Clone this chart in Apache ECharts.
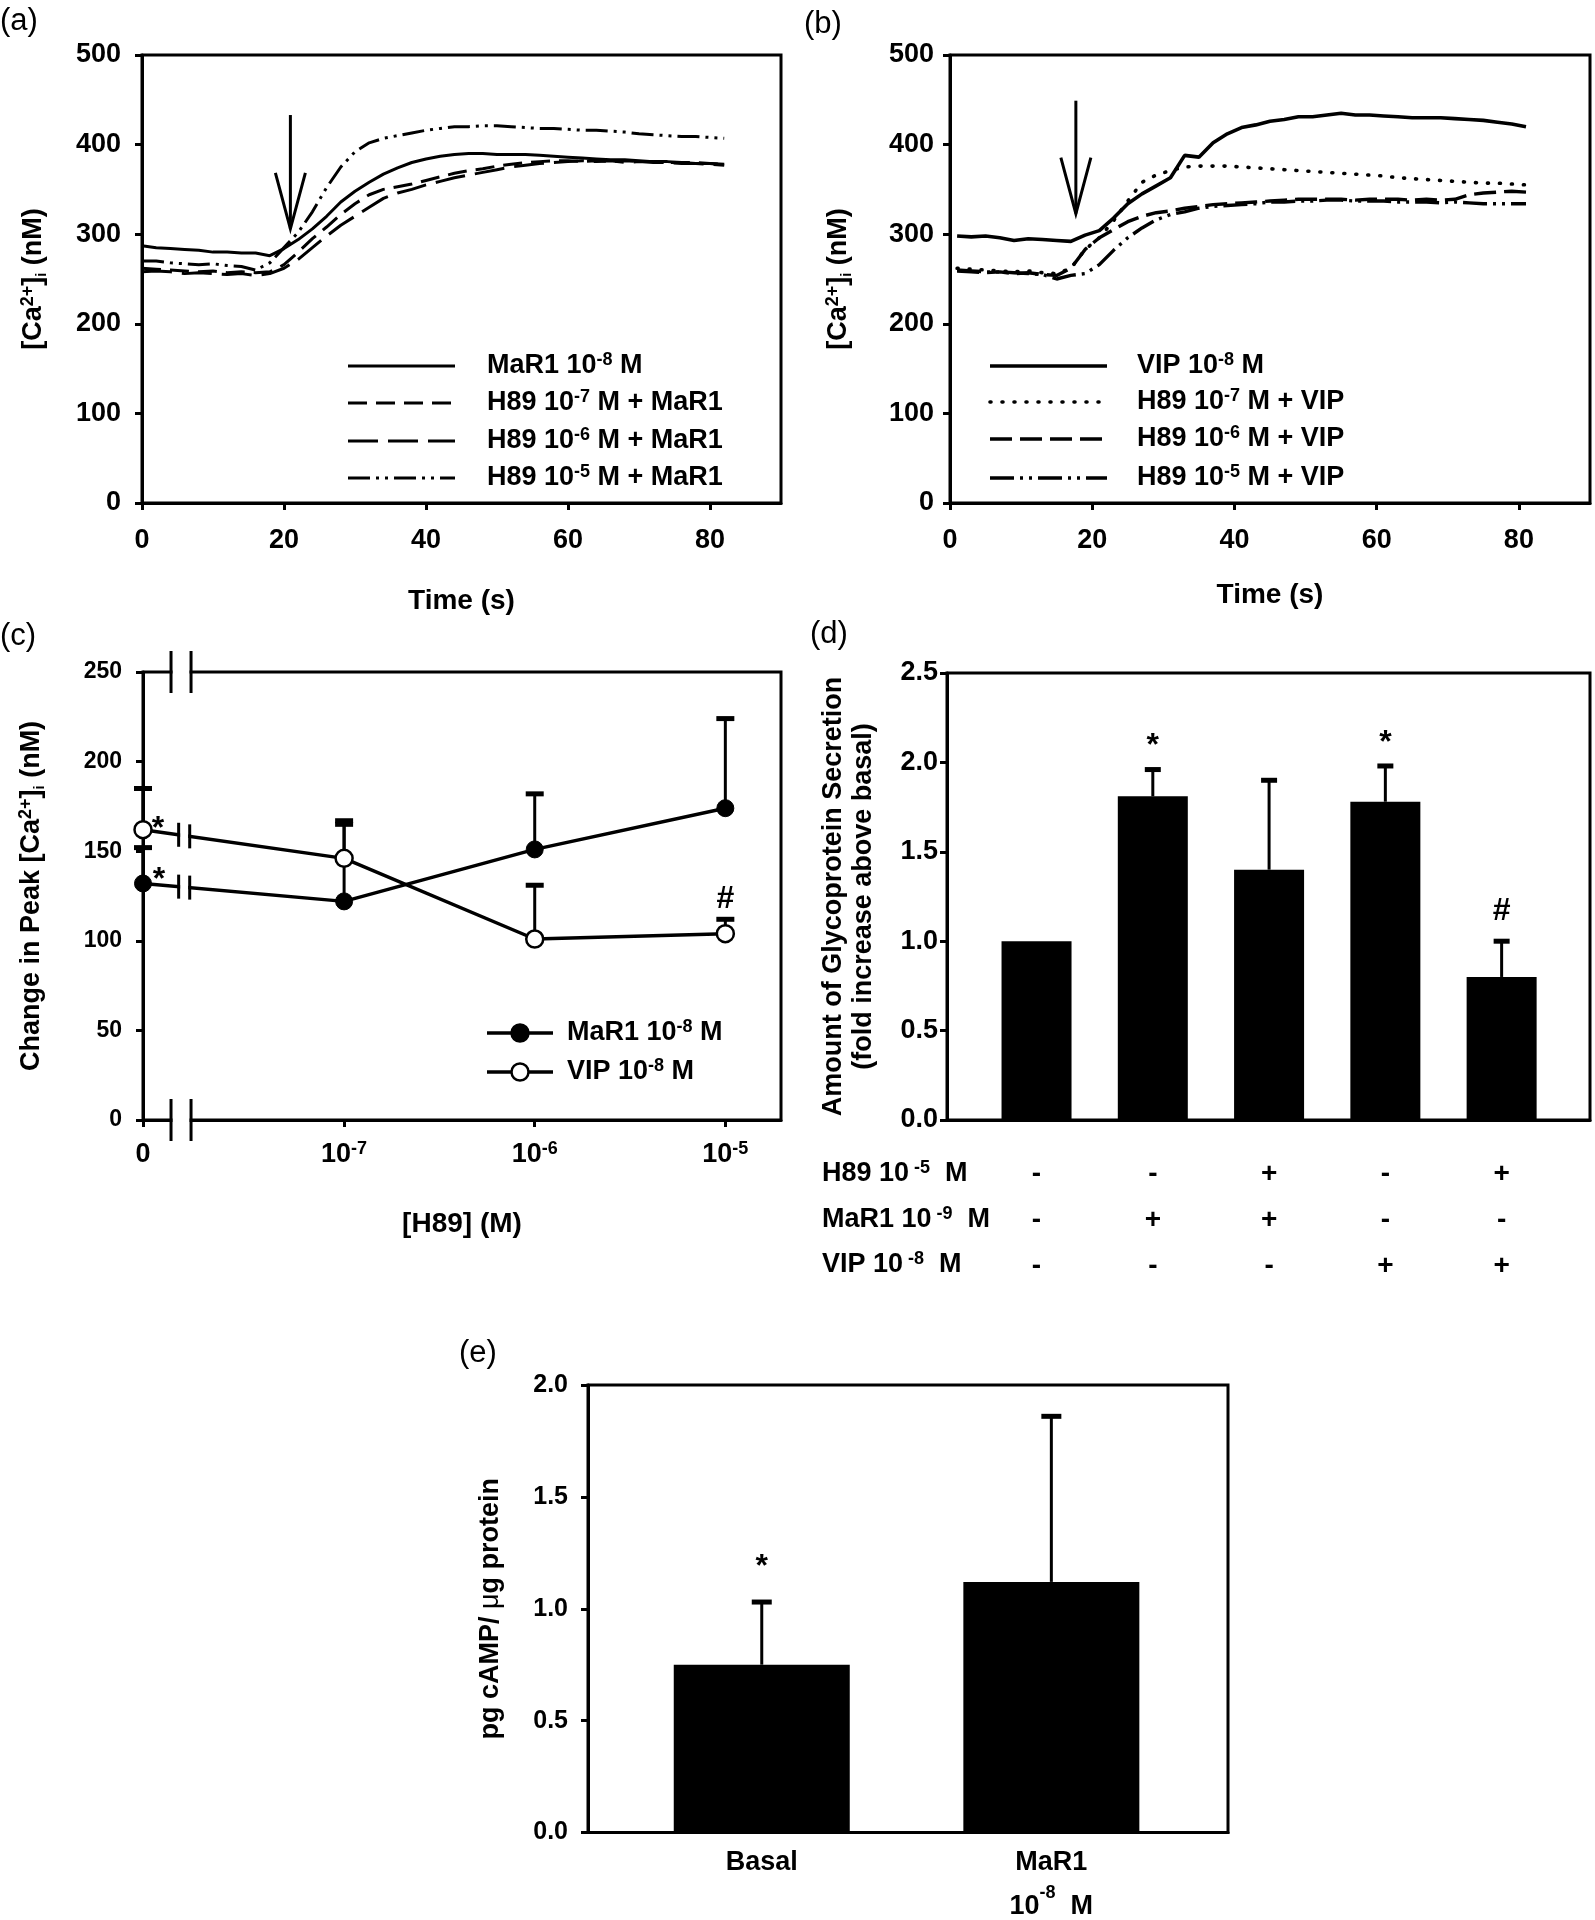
<!DOCTYPE html>
<html>
<head>
<meta charset="utf-8">
<title>MaR1 / VIP / H89</title>
<script src="https://cdn.jsdelivr.net/npm/echarts@6.0.0/dist/echarts.min.js"></script>
<style>
  html, body { margin: 0; padding: 0; background: #fff; }
  #chart { width: 1595px; height: 1920px; }
</style>
</head>
<body>
<div id="chart"></div>
<script>
// ---------- data ----------
// (a) [Ca2+]i traces, MaR1 with H89
const timeA = [0, 2, 4, 6, 8, 10, 12, 14, 16, 18, 20, 22, 24, 26, 28, 30, 32, 34, 36, 38, 40,
  42, 44, 46, 48, 50, 52, 54, 56, 58, 60, 62, 64, 66, 68, 70, 72, 74, 76, 78, 80, 82];
const aMaR1 = [287, 285, 284, 283, 282, 280, 280, 279, 279, 276, 284, 294, 306, 320, 336, 348, 358, 367, 374, 380, 384,
  387, 389, 390, 390, 389, 389, 389, 388, 387, 386, 385, 384, 383, 383, 382, 381, 381, 380, 379, 379, 378];
const aH89m7 = [262, 261, 260, 259, 258, 259, 257, 258, 257, 258, 266, 280, 295, 308, 322, 334, 344, 350, 353, 356, 360,
  364, 368, 371, 373, 376, 378, 380, 381, 382, 382, 381, 382, 381, 382, 381, 381, 380, 380, 380, 379, 378];
const aH89m6 = [258, 259, 258, 256, 257, 256, 255, 256, 254, 256, 262, 272, 285, 298, 310, 320, 330, 340, 346, 350, 355,
  359, 363, 366, 369, 372, 375, 377, 379, 380, 381, 382, 381, 382, 380, 381, 380, 380, 379, 379, 378, 377];
const aH89m5 = [270, 270, 268, 267, 266, 267, 265, 264, 260, 268, 285, 302, 325, 352, 375, 392, 402, 407, 410, 413, 416,
  418, 420, 420, 421, 421, 420, 419, 418, 418, 417, 416, 416, 415, 414, 412, 411, 410, 409, 409, 408, 407];
const arrowA = [20.9, 433, 306]; // time, top, tip

// (b) [Ca2+]i traces, VIP with H89
const timeB = [1, 3, 5, 7, 9, 11, 13, 15, 17, 19, 21, 23, 25, 27, 29, 31, 33, 35, 37, 39, 41,
  43, 45, 47, 49, 51, 53, 55, 57, 59, 61, 63, 65, 67, 69, 71, 73, 75, 77, 79, 81];
const bVIP = [298, 297, 298, 296, 293, 295, 294, 293, 292, 299, 304, 318, 334, 345, 354, 363, 388, 386, 402, 412, 419,
  422, 426, 428, 431, 431, 433, 435, 433, 433, 432, 431, 430, 430, 430, 429, 428, 427, 425, 423, 420];
const bH89m7 = [262, 261, 260, 259, 258, 259, 257, 256, 262, 283, 296, 315, 337, 358, 366, 371, 375, 376, 376, 376, 375,
  374, 373, 372, 371, 370, 369, 368, 367, 366, 365, 363, 362, 361, 360, 359, 358, 357, 357, 356, 355];
const bH89m6 = [259, 258, 257, 258, 256, 257, 255, 254, 262, 283, 296, 305, 314, 320, 324, 326, 329, 331, 333, 334, 335,
  336, 337, 338, 339, 339, 339, 339, 338, 339, 339, 339, 338, 339, 338, 339, 344, 346, 347, 348, 347];
const bH89m5 = [260, 259, 258, 258, 257, 256, 255, 250, 254, 256, 266, 282, 296, 307, 316, 322, 325, 329, 331, 332, 333,
  334, 336, 336, 337, 337, 338, 338, 337, 337, 337, 336, 336, 336, 335, 336, 335, 334, 334, 334, 334];
const arrowB = [17.7, 449, 323];

const timeTicks = [0, 20, 40, 60, 80];

// (c) change in peak [Ca2+]i vs H89 concentration
const h89Exp = ['', '-7', '-6', '-5'];
const h89Pos = [-8.055, -7, -6, -5]; // log10 [H89]; 0 M sits left of the axis break
const cMaR1 = [132, 122, 151, 174];
const cMaR1Sem = [20, 43, 31, 50];
const cVIP = [162, 146, 101, 104];
const cVIPSem = [23, 21, 30, 8];
const cMaR1Star = ['*', '', '', ''];
const cVIPStar = ['*', '', '', ''];
const cVIPHash = ['', '', '', '#'];

// (d) glycoprotein secretion
const dPos = [1, 2, 3, 4, 5];
const dMean = [1.00, 1.81, 1.40, 1.78, 0.80];
const dSem = [0, 0.15, 0.50, 0.20, 0.20];
const dMarks = ['', '*', '', '*', '#'];
const dH89 = ['-', '-', '+', '-', '+'];
const dMaR1 = ['-', '+', '+', '-', '-'];
const dVIP = ['-', '-', '-', '+', '+'];

// (e) cAMP
const ePos = [1, 2];
const eMean = [0.75, 1.12];
const eSem = [0.28, 0.74];
const eMarks = ['*', ''];

// ---------- styles ----------
const FONT = '"Liberation Sans", Arial, Helvetica, sans-serif';
const BLACK = '#000';

const RICH = {
  t: { fontFamily: FONT, fontWeight: 'bold', fontSize: 27, lineHeight: 30, color: BLACK },
  sup: { fontFamily: FONT, fontWeight: 'bold', fontSize: 18, lineHeight: 16, verticalAlign: 'top', color: BLACK },
  sub: { fontFamily: FONT, fontWeight: 'bold', fontSize: 15, lineHeight: 10, verticalAlign: 'bottom', color: BLACK },
  mu: { fontFamily: FONT, fontWeight: 'normal', fontSize: 27, lineHeight: 30, color: BLACK },
  te: { fontFamily: FONT, fontWeight: 'bold', fontSize: 27, lineHeight: 44, color: BLACK },
  supe: { fontFamily: FONT, fontWeight: 'bold', fontSize: 18, lineHeight: 26, verticalAlign: 'top', color: BLACK },
  s: { fontFamily: FONT, fontWeight: 'bold', fontSize: 28, lineHeight: 46, color: BLACK }
};

const A_STYLES = [
  { dash: 'solid', width: 3 },
  { dash: [19, 9], width: 3 },
  { dash: [30, 10], width: 3 },
  { dash: [22, 6, 3, 6, 3, 6], width: 3 }
];
const B_STYLES = [
  { dash: 'solid', width: 3.6 },
  { dash: [1, 11], width: 3.6, cap: 'round' },
  { dash: [22, 8], width: 3.4 },
  { dash: [24, 6, 3, 6, 3, 6], width: 3.4 }
];

const caName = '{t|[Ca}{sup|2+}{t|]}{sub|i}{t| (nM)}';
const sci = (e) => '{t|10}{sup|' + e + '}';

function merge(a, b) {
  const out = Object.assign({}, a);
  for (const k in b) {
    if (b[k] && typeof b[k] === 'object' && !Array.isArray(b[k]) && typeof b[k] !== 'function' &&
        a[k] && typeof a[k] === 'object') {
      out[k] = merge(a[k], b[k]);
    } else {
      out[k] = b[k];
    }
  }
  return out;
}

function axis(gridIndex, opt) {
  return merge({
    gridIndex: gridIndex,
    type: 'value',
    axisLine: { onZero: false, lineStyle: { color: BLACK, width: 3 } },
    axisTick: { length: 7, lineStyle: { color: BLACK, width: 3 } },
    axisLabel: { color: BLACK, fontFamily: FONT, fontWeight: 'bold', fontSize: 27, margin: 14, rich: RICH },
    splitLine: { show: false },
    nameTextStyle: { color: BLACK, fontFamily: FONT, fontWeight: 'bold', fontSize: 27, rich: RICH }
  }, opt);
}

function traces(gridIdx, times, list, styles, names) {
  return list.map((vals, k) => ({
    type: 'line',
    name: names[k],
    xAxisIndex: gridIdx,
    yAxisIndex: gridIdx,
    silent: true,
    showSymbol: false,
    symbol: 'none',
    z: 2,
    data: times.map((t, i) => [t, vals[i]]),
    lineStyle: { color: BLACK, width: styles[k].width, type: styles[k].dash, cap: styles[k].cap || 'butt' }
  }));
}

function errorBars(gridIdx, xs, means, sems, capHalf) {
  return {
    type: 'custom',
    xAxisIndex: gridIdx,
    yAxisIndex: gridIdx,
    silent: true,
    z: 1,
    data: xs.map((x, i) => [x, means[i], means[i] + sems[i]]),
    encode: { x: 0, y: [1, 2] },
    renderItem(params, api) {
      if (!(api.value(2) > api.value(1))) return;
      const lo = api.coord([api.value(0), api.value(1)]);
      const hi = api.coord([api.value(0), api.value(2)]);
      return {
        type: 'group',
        children: [
          { type: 'line', shape: { x1: lo[0], y1: lo[1], x2: hi[0], y2: hi[1] }, style: { stroke: BLACK, lineWidth: 3 } },
          { type: 'line', shape: { x1: hi[0] - capHalf, y1: hi[1], x2: hi[0] + capHalf, y2: hi[1] }, style: { stroke: BLACK, lineWidth: 5 } }
        ]
      };
    }
  };
}

// significance marks, anchored at a data point and nudged by a pixel offset
function marks(gridIdx, xs, anchors, texts, dx, dy) {
  return {
    type: 'custom',
    xAxisIndex: gridIdx,
    yAxisIndex: gridIdx,
    silent: true,
    z: 5,
    data: xs.map((x, i) => [x, anchors[i]]),
    renderItem(params, api) {
      const txt = texts[params.dataIndex];
      if (!txt) return;
      const p = api.coord([api.value(0), api.value(1)]);
      const glyphShift = txt === '*' ? 7 : 0;
      return {
        type: 'text',
        x: p[0] + dx,
        y: p[1] + dy + glyphShift,
        style: { text: txt, fill: BLACK, font: 'bold 32px ' + FONT, align: 'center', verticalAlign: 'middle' }
      };
    }
  };
}

function arrow(gridIdx, spec) {
  return {
    type: 'custom',
    xAxisIndex: gridIdx,
    yAxisIndex: gridIdx,
    silent: true,
    z: 4,
    data: [spec],
    encode: { x: 0, y: [1, 2] },
    renderItem(params, api) {
      const top = api.coord([api.value(0), api.value(1)]);
      const tip = api.coord([api.value(0), api.value(2)]);
      return {
        type: 'group',
        children: [
          { type: 'line', shape: { x1: top[0], y1: top[1], x2: tip[0], y2: tip[1] }, style: { stroke: BLACK, lineWidth: 3 } },
          { type: 'polyline', shape: { points: [[tip[0] - 15, tip[1] - 56], [tip[0], tip[1]], [tip[0] + 15, tip[1] - 56]] },
            style: { stroke: BLACK, lineWidth: 3, fill: 'none' } }
        ]
      };
    }
  };
}

// axis break of panel (c): on the frame and on both lines
const FRAME_BREAK = [-7.908, -7.803];
const LINE_BREAK = [-7.868, -7.81];
const breakSeries = {
  type: 'custom',
  xAxisIndex: 2,
  yAxisIndex: 2,
  silent: true,
  z: 6,
  data: [[-7.85, 0]],
  renderItem(params, api) {
    const kids = [];
    const pair = (a, b, half, gapH) => {
      kids.push({ type: 'rect', shape: { x: a[0] + 1.5, y: (a[1] + b[1]) / 2 - gapH / 2, width: b[0] - a[0] - 3, height: gapH },
        style: { fill: '#fff' } });
      [a, b].forEach((p) => kids.push({ type: 'line', shape: { x1: p[0], y1: p[1] - half, x2: p[0], y2: p[1] + half },
        style: { stroke: BLACK, lineWidth: 3 } }));
    };
    [0, 250].forEach((v) => pair(api.coord([FRAME_BREAK[0], v]), api.coord([FRAME_BREAK[1], v]), 21, 8));
    [cMaR1, cVIP].forEach((vals) => {
      const at = (x) => vals[0] + (vals[1] - vals[0]) * (x - h89Pos[0]) / (h89Pos[1] - h89Pos[0]);
      pair(api.coord([LINE_BREAK[0], at(LINE_BREAK[0])]), api.coord([LINE_BREAK[1], at(LINE_BREAK[1])]), 12, 10);
    });
    return { type: 'group', children: kids };
  }
};

// ---------- legends and panel letters (graphic) ----------
function legendBlock(x0, x1, tx, ys, items) {
  const out = [];
  items.forEach((it, i) => {
    const y = ys[i];
    out.push({ type: 'line', shape: { x1: x0, y1: y, x2: x1, y2: y }, silent: true,
      style: { stroke: BLACK, lineWidth: it.width, lineDash: it.dash === 'solid' ? null : it.dash, lineCap: it.cap || 'butt' } });
    if (it.marker) {
      out.push({ type: 'circle', shape: { cx: (x0 + x1) / 2, cy: y, r: 8.5 }, silent: true,
        style: { fill: it.marker, stroke: BLACK, lineWidth: 2.5 } });
    }
    out.push({ type: 'text', x: tx, y: y, silent: true,
      style: { text: it.label, rich: RICH, align: 'left', verticalAlign: 'middle' } });
  });
  return out;
}

const legendA = legendBlock(348, 455, 487, [366, 403, 441, 478], [
  Object.assign({ label: '{t|MaR1 10}{sup|-8}{t| M}' }, A_STYLES[0]),
  Object.assign({ label: '{t|H89 10}{sup|-7}{t| M + MaR1}' }, A_STYLES[1]),
  Object.assign({ label: '{t|H89 10}{sup|-6}{t| M + MaR1}' }, A_STYLES[2]),
  Object.assign({ label: '{t|H89 10}{sup|-5}{t| M + MaR1}' }, A_STYLES[3])
]);
const legendB = legendBlock(990, 1107, 1137, [366, 402, 439, 478], [
  Object.assign({ label: '{t|VIP 10}{sup|-8}{t| M}' }, B_STYLES[0]),
  Object.assign({ label: '{t|H89 10}{sup|-7}{t| M + VIP}' }, B_STYLES[1]),
  Object.assign({ label: '{t|H89 10}{sup|-6}{t| M + VIP}' }, B_STYLES[2]),
  Object.assign({ label: '{t|H89 10}{sup|-5}{t| M + VIP}' }, B_STYLES[3])
]);
const legendC = legendBlock(487, 553, 567, [1033, 1072], [
  { label: '{t|MaR1 10}{sup|-8}{t| M}', dash: 'solid', width: 3.5, marker: BLACK },
  { label: '{t|VIP 10}{sup|-8}{t| M}', dash: 'solid', width: 3.5, marker: '#fff' }
]);

const letter = (txt, x, y) => ({ type: 'text', x: x, y: y, silent: true,
  style: { text: txt, font: '31px ' + FONT, fill: BLACK, align: 'left', verticalAlign: 'middle' } });

const tableRows = [
  { y: 1174, label: '{t|H89 10}{sup| -5}{t|  M}' },
  { y: 1220, label: '{t|MaR1 10}{sup| -9}{t|  M}' },
  { y: 1265, label: '{t|VIP 10}{sup| -8}{t|  M}' }
].map((r) => ({ type: 'text', x: 822, y: r.y, silent: true,
  style: { text: r.label, rich: RICH, align: 'left', verticalAlign: 'middle' } }));

// ---------- chart ----------
const chart = echarts.init(document.getElementById('chart'));

const gridBox = { show: true, borderColor: BLACK, borderWidth: 3, containLabel: false };

const option = {
  animation: false,
  backgroundColor: '#fff',
  grid: [
    Object.assign({ left: 142, top: 55, width: 639, height: 448 }, gridBox),
    Object.assign({ left: 950, top: 55, width: 640, height: 448 }, gridBox),
    Object.assign({ left: 143, top: 672, width: 638, height: 448 }, gridBox),
    Object.assign({ left: 947, top: 673, width: 643, height: 447 }, gridBox),
    Object.assign({ left: 588, top: 1385, width: 640, height: 449 }, gridBox)
  ],
  xAxis: [
    axis(0, { min: 0, max: 90, axisLabel: { customValues: timeTicks, margin: 24 }, axisTick: { customValues: timeTicks },
      name: 'Time (s)', nameLocation: 'middle', nameGap: 84, nameTextStyle: { fontSize: 28 } }),
    axis(1, { min: 0, max: 90, axisLabel: { customValues: timeTicks, margin: 24 }, axisTick: { customValues: timeTicks },
      name: 'Time (s)', nameLocation: 'middle', nameGap: 78, nameTextStyle: { fontSize: 28 } }),
    axis(2, { min: -8.055, max: -4.708,
      axisLabel: { customValues: h89Pos, margin: 20,
        formatter: (v) => {
          const i = h89Pos.findIndex((p) => Math.abs(p - v) < 1e-6);
          if (i < 0) return '';
          return h89Exp[i] ? sci(h89Exp[i]) : '{t|0}';
        } },
      axisTick: { customValues: h89Pos },
      name: '[H89] (M)', nameLocation: 'middle', nameGap: 90, nameTextStyle: { fontSize: 28 } }),
    axis(3, { min: 0.23, max: 5.76, axisTick: { show: false },
      axisLabel: { customValues: dPos, margin: 31,
        formatter: (v) => {
          const i = Math.round(v) - 1;
          return [dH89[i], dMaR1[i], dVIP[i]].map((s) => '{s|' + s + '}').join('\n');
        } } }),
    axis(4, { min: 0.4, max: 2.61, axisTick: { show: false },
      axisLabel: { customValues: ePos, margin: 8,
        formatter: (v) => (Math.round(v) === 1 ? '{te|Basal}' : '{te|MaR1}\n{te|10}{supe|-8}{te|  M}') } })
  ],
  yAxis: [
    axis(0, { min: 0, max: 500, interval: 100, axisLabel: { margin: 21 },
      name: caName, nameLocation: 'middle', nameRotate: 90, nameGap: 93 }),
    axis(1, { min: 0, max: 500, interval: 100, axisLabel: { margin: 16 },
      name: caName, nameLocation: 'middle', nameRotate: 90, nameGap: 96 }),
    axis(2, { min: 0, max: 250, interval: 50, axisLabel: { fontSize: 23, margin: 21 },
      name: '{t|Change in Peak [Ca}{sup|2+}{t|]}{sub|i}{t| (nM)}', nameLocation: 'middle', nameRotate: 90, nameGap: 96 }),
    axis(3, { min: 0, max: 2.5, interval: 0.5, axisLabel: { margin: 9, formatter: (v) => v.toFixed(1) },
      name: '{t|Amount of Glycoprotein Secretion}\n{t|(fold increase above basal)}',
      nameLocation: 'middle', nameRotate: 90, nameGap: 68 }),
    axis(4, { min: 0, max: 2, interval: 0.5, axisLabel: { fontSize: 25, margin: 20, formatter: (v) => v.toFixed(1) },
      name: '{t|pg cAMP/ }{mu|\u03bc}{t|g protein}', nameLocation: 'middle', nameRotate: 90, nameGap: 82 })
  ],
  graphic: [
    letter('(a)', 0, 21),
    letter('(b)', 804, 24),
    letter('(c)', 0, 636),
    letter('(d)', 810, 634),
    letter('(e)', 459, 1353)
  ].concat(legendA, legendB, legendC, tableRows),
  series: [].concat(
    traces(0, timeA, [aMaR1, aH89m7, aH89m6, aH89m5], A_STYLES,
      ['MaR1 10^-8 M', 'H89 10^-7 M + MaR1', 'H89 10^-6 M + MaR1', 'H89 10^-5 M + MaR1']),
    [arrow(0, arrowA)],
    traces(1, timeB, [bVIP, bH89m7, bH89m6, bH89m5], B_STYLES,
      ['VIP 10^-8 M', 'H89 10^-7 M + VIP', 'H89 10^-6 M + VIP', 'H89 10^-5 M + VIP']),
    [arrow(1, arrowB)],
    [
      errorBars(2, h89Pos, cMaR1, cMaR1Sem, 9),
      errorBars(2, h89Pos, cVIP, cVIPSem, 9),
      {
        type: 'line', name: 'MaR1 10^-8 M (peak)', xAxisIndex: 2, yAxisIndex: 2, silent: true, z: 3,
        data: h89Pos.map((x, i) => [x, cMaR1[i]]),
        symbol: 'circle', symbolSize: 17,
        lineStyle: { color: BLACK, width: 3.5 },
        itemStyle: { color: BLACK, borderColor: BLACK, borderWidth: 1 }
      },
      {
        type: 'line', name: 'VIP 10^-8 M (peak)', xAxisIndex: 2, yAxisIndex: 2, silent: true, z: 3,
        data: h89Pos.map((x, i) => [x, cVIP[i]]),
        symbol: 'circle', symbolSize: 17,
        lineStyle: { color: BLACK, width: 3.5 },
        itemStyle: { color: '#fff', borderColor: BLACK, borderWidth: 2.5 }
      },
      marks(2, h89Pos, cMaR1, cMaR1Star, 16, -10),
      marks(2, h89Pos, cVIP, cVIPStar, 15, -8),
      marks(2, h89Pos, cVIP.map((m, i) => m + cVIPSem[i]), cVIPHash, 0, -20),
      breakSeries,
      {
        type: 'bar', name: 'Glycoprotein', xAxisIndex: 3, yAxisIndex: 3, silent: true,
        barWidth: 70, data: dPos.map((x, i) => [x, dMean[i]]),
        itemStyle: { color: BLACK }
      },
      errorBars(3, dPos, dMean, dSem, 8),
      marks(3, dPos, dMean.map((m, i) => m + dSem[i]), dMarks, 0, -30),
      {
        type: 'bar', name: 'cAMP', xAxisIndex: 4, yAxisIndex: 4, silent: true,
        barWidth: 176, data: ePos.map((x, i) => [x, eMean[i]]),
        itemStyle: { color: BLACK }
      },
      errorBars(4, ePos, eMean, eSem, 10),
      marks(4, ePos, eMean.map((m, i) => m + eSem[i]), eMarks, 0, -42)
    ]
  )
};

chart.setOption(option);
</script>
</body>
</html>
